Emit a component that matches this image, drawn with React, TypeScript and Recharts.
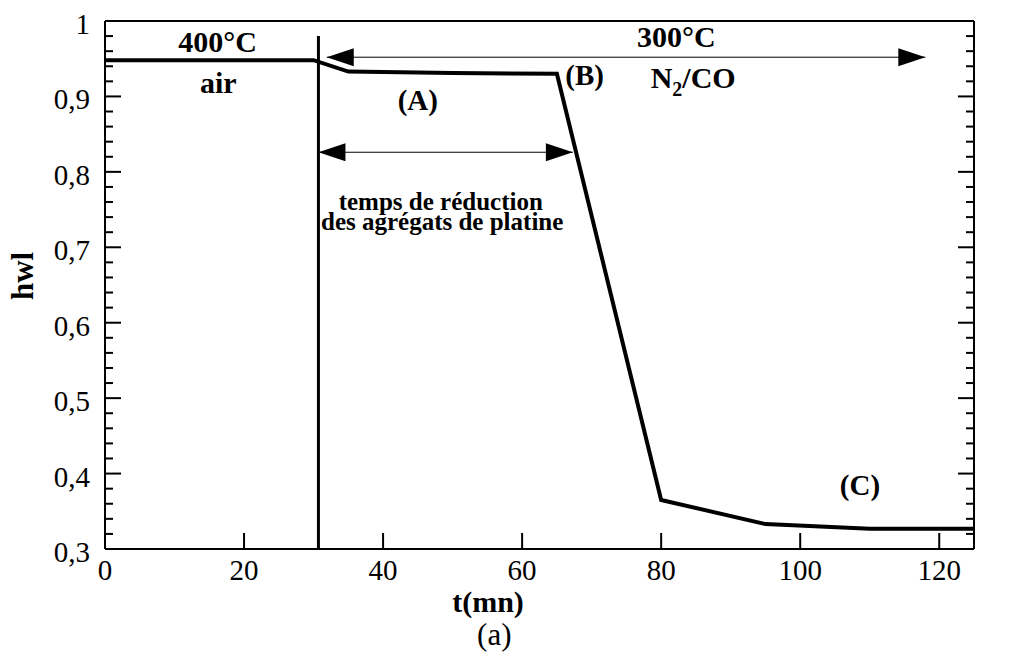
import React from "react";
import {
  LineChart,
  Line,
  XAxis,
  YAxis,
  ReferenceLine,
  ReferenceDot,
} from "recharts";

const TIME = [0, 30, 35, 50, 65, 80, 95, 110, 125];
const HWL = [0.948, 0.948, 0.933, 0.931, 0.93, 0.365, 0.333, 0.327, 0.327];

const X_TICKS = [0, 20, 40, 60, 80, 100, 120];
const Y_TICKS = [
  0.3, 0.32, 0.34, 0.36, 0.38, 0.4, 0.42, 0.44, 0.46, 0.48, 0.5, 0.52, 0.54,
  0.56, 0.58, 0.6, 0.62, 0.64, 0.66, 0.68, 0.7, 0.72, 0.74, 0.76, 0.78, 0.8,
  0.82, 0.84, 0.86, 0.88, 0.9, 0.92, 0.94, 0.96, 0.98, 1,
];
const X_MIN = 0;
const X_MAX = 125;
const Y_MIN = 0.3;
const Y_MAX = 1;

// switch from air to N2/CO
const SWITCH_T = 30.7;
const SWITCH_TOP = 0.98;

// double arrows
const ARROWS = [
  { from: 31.9, to: 118, level: 0.952 },
  { from: 30.7, to: 67.3, level: 0.826 },
];

// bold notes in data coordinates (baseline)
const NOTES = [
  { t: 16.2, v: 0.959, text: "400°C", size: 30 },
  { t: 16.3, v: 0.9045, text: "air", size: 30 },
  { t: 45, v: 0.882, text: "(A)", size: 29 },
  { t: 69, v: 0.915, text: "(B)", size: 29 },
  { t: 82.2, v: 0.9655, text: "300°C", size: 30 },
  { t: 108.6, v: 0.371, text: "(C)", size: 29 },
  { t: 48.3, v: 0.749, text: "temps de réduction", size: 25 },
  { t: 48.5, v: 0.723, text: "des agrégats de platine", size: 25 },
];
const GAS_NOTE = { t: 84.6, v: 0.911 };

// axis titles, placed outside the frame
const X_TITLE = { t: 55.1, v: 0.2165, text: "t(mn)" };
const CAPTION = { t: 56, v: 0.1727, text: "(a)" };
const Y_TITLE = { t: -10.4, v: 0.662, text: "hwl" };

const FONT = '"Liberation Serif", Tinos, "Times New Roman", "DejaVu Serif", serif';

const data = TIME.map((t, i) => ({ t, hwl: HWL[i] }));

const isMajor = (v: number) => Math.abs(v * 10 - Math.round(v * 10)) < 1e-6;
const fmtY = (v: number) => (v === 1 ? "1" : v.toFixed(1).replace(".", ","));

// vertical frame side with inner ticks; dir = +1 ticks point right, -1 left
const vFrameShape = (dir: number) => (p: any) => {
  const x = p.x1;
  const yb = Math.max(p.y1, p.y2);
  const yt = Math.min(p.y1, p.y2);
  const toY = (v: number) => yb - ((v - Y_MIN) / (Y_MAX - Y_MIN)) * (yb - yt);
  return (
    <g>
      <line x1={x} x2={x} y1={yb} y2={yt} stroke="#000" strokeWidth={2} />
      {Y_TICKS.map((v) => (
        <path key={v} d={`M${x},${toY(v)}H${x + dir * (isMajor(v) ? 16 : 8)}`} stroke="#000" strokeWidth={2} fill="none" />
      ))}
    </g>
  );
};

// bottom frame with inner ticks
const bottomFrameShape = (p: any) => {
  const y = p.y1;
  const xl = Math.min(p.x1, p.x2);
  const xr = Math.max(p.x1, p.x2);
  const toX = (t: number) => xl + ((t - X_MIN) / (X_MAX - X_MIN)) * (xr - xl);
  return (
    <g>
      <line x1={xl} x2={xr} y1={y} y2={y} stroke="#000" strokeWidth={2} />
      {X_TICKS.slice(1).map((t) => (
        <path key={t} d={`M${toX(t)},${y}V${y - 16}`} stroke="#000" strokeWidth={2} fill="none" />
      ))}
    </g>
  );
};

const arrowShape = (p: any) => {
  const { x1, x2, y1 } = p;
  const xl = Math.min(x1, x2);
  const xr = Math.max(x1, x2);
  return (
    <g>
      <line x1={xl} x2={xr} y1={y1} y2={y1} stroke="#000" strokeWidth={1} />
      <polygon points={`${xl},${y1} ${xl + 27},${y1 - 9} ${xl + 27},${y1 + 9}`} fill="#000" />
      <polygon points={`${xr},${y1} ${xr - 27},${y1 - 9} ${xr - 27},${y1 + 9}`} fill="#000" />
    </g>
  );
};

const noteShape = (text: string, size: number, bold = true) => (p: any) => (
  <text x={p.cx} y={p.cy} textAnchor="middle" style={{ fontFamily: FONT }} fontWeight={bold ? "bold" : "normal"} fontSize={size} fill="#000">
    {text}
  </text>
);

const yLabelShape = (text: string) => (p: any) => (
  <text x={p.cx - 15} y={p.cy + 13} textAnchor="end" style={{ fontFamily: FONT }} fontSize={29} fill="#000">
    {text}
  </text>
);

const xLabelShape = (text: string) => (p: any) => (
  <text x={p.cx} y={p.cy + 31} textAnchor="middle" style={{ fontFamily: FONT }} fontSize={29} fill="#000">
    {text}
  </text>
);

const gasShape = (p: any) => (
  <text x={p.cx} y={p.cy} textAnchor="middle" style={{ fontFamily: FONT }} fontWeight="bold" fontSize={30} fill="#000">
    N
    <tspan fontSize={20} dy={8}>2</tspan>
    <tspan dy={-8}>/CO</tspan>
  </text>
);

const yTitleShape = (p: any) => (
  <text x={p.cx} y={p.cy} transform={`rotate(-90 ${p.cx} ${p.cy})`} textAnchor="middle" style={{ fontFamily: FONT }} fontWeight="bold" fontSize={31} fill="#000">
    {Y_TITLE.text}
  </text>
);

const seg = (x1: number, y1: number, x2: number, y2: number) => [
  { x: x1, y: y1 },
  { x: x2, y: y2 },
];

export default function App() {
  return (
    <div style={{ position: "absolute", left: 0, top: 0, background: "#fff" }}>
      <LineChart width={1010} height={662} data={data} margin={{ top: 21, right: 36, bottom: 113, left: 105 }}>
        <XAxis dataKey="t" type="number" domain={[X_MIN, X_MAX]} hide />
        <YAxis type="number" domain={[Y_MIN, Y_MAX]} hide />
        <ReferenceLine segment={seg(X_MIN, Y_MAX, X_MAX, Y_MAX)} stroke="#000" strokeWidth={2} />
        {/* tick labels */}
        {Y_TICKS.filter(isMajor).map((v) => (
          <ReferenceDot key={`ly${v}`} x={X_MIN} y={v} r={0} ifOverflow="visible" shape={yLabelShape(fmtY(v))} />
        ))}
        {X_TICKS.map((t) => (
          <ReferenceDot key={`lx${t}`} x={t} y={Y_MIN} r={0} ifOverflow="visible" shape={xLabelShape(String(t))} />
        ))}
        <ReferenceLine segment={seg(SWITCH_T, Y_MIN, SWITCH_T, SWITCH_TOP)} stroke="#000" strokeWidth={3} />
        {ARROWS.map((a, i) => (
          <ReferenceLine key={`a${i}`} segment={seg(a.from, a.level, a.to, a.level)} shape={arrowShape} />
        ))}
        <Line
          type="linear"
          dataKey="hwl"
          stroke="#000"
          strokeWidth={4}
          strokeLinejoin="miter"
          dot={false}
          isAnimationActive={false}
        />
        {NOTES.map((n, i) => (
          <ReferenceDot key={`n${i}`} x={n.t} y={n.v} r={0} shape={noteShape(n.text, n.size)} />
        ))}
        <ReferenceDot x={GAS_NOTE.t} y={GAS_NOTE.v} r={0} shape={gasShape} />
        <ReferenceDot x={X_TITLE.t} y={X_TITLE.v} r={0} ifOverflow="visible" shape={noteShape(X_TITLE.text, 30)} />
        <ReferenceDot x={CAPTION.t} y={CAPTION.v} r={0} ifOverflow="visible" shape={noteShape(CAPTION.text, 31, false)} />
        <ReferenceDot x={Y_TITLE.t} y={Y_TITLE.v} r={0} ifOverflow="visible" shape={yTitleShape} />
        {/* frame with inner ticks, drawn last */}
        <ReferenceLine segment={seg(X_MIN, Y_MIN, X_MIN, Y_MAX)} shape={vFrameShape(1)} />
        <ReferenceLine segment={seg(X_MAX, Y_MIN, X_MAX, Y_MAX)} shape={vFrameShape(-1)} />
        <ReferenceLine segment={seg(X_MIN, Y_MIN, X_MAX, Y_MIN)} shape={bottomFrameShape} />
      </LineChart>
    </div>
  );
}
